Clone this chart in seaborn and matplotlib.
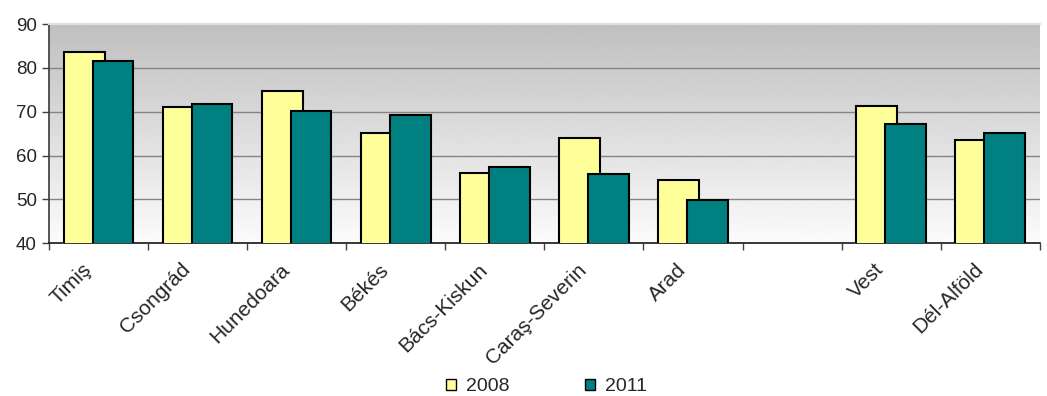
import matplotlib
matplotlib.use('Agg')
import matplotlib.pyplot as plt
import seaborn as sns
import pandas as pd
import numpy as np

sns.set_theme(style="white")
plt.rcParams['font.family'] = ['Liberation Sans', 'DejaVu Sans']

# Datos
categorias = ['Timiş', 'Csongrád', 'Hunedoara', 'Békés', 'Bács-Kiskun',
              'Caraş-Severin', 'Arad', '', 'Vest', 'Dél-Alföld']
valores_2008 = [83.7, 71.0, 74.7, 65.2, 56.1, 64.0, 54.5, np.nan, 71.4, 63.5]
valores_2011 = [81.6, 71.7, 70.1, 69.3, 57.4, 55.8, 49.9, np.nan, 67.2, 65.2]
series = ['2008', '2011']
colores = {'2008': '#FFFF99', '2011': '#008080'}

ANCHO = 0.41
DESPL = 0.145

pos = np.arange(len(categorias))
df = pd.DataFrame({'pos': pos, '2008': valores_2008, '2011': valores_2011})

fig, ax = plt.subplots(figsize=(10.47, 3.96), dpi=100)
fig.subplots_adjust(left=0.047, right=0.993, top=0.939, bottom=0.386)

# Fondo degradado gris -> blanco
grad = np.linspace(0.985, 0.75, 256)[:, None]
ax.imshow(grad, extent=[-0.5, 9.5, 40, 90], aspect='auto', cmap='gray',
          vmin=0, vmax=1, origin='lower', zorder=0)

handles = []
for i, s in enumerate(series):
    d = df.dropna(subset=[s])
    xs = d['pos'] + (-DESPL if i == 0 else DESPL)
    sns.barplot(x=xs, y=d[s], native_scale=True, width=ANCHO,
                color=colores[s], edgecolor='black', linewidth=1.5,
                errorbar=None, saturation=1, ax=ax, zorder=3 + i)
    handles.append(plt.Rectangle((0, 0), 1, 1, facecolor=colores[s],
                                 edgecolor='black', linewidth=1.0, label=s))

ax.set_xlim(-0.5, 9.5)
ax.set_ylim(40, 90)
ax.set_yticks([40, 50, 60, 70, 80, 90])
ax.set_yticklabels(['40', '50', '60', '70', '80', '90'], fontsize=13.5)
for y in [50, 60, 70, 80]:
    ax.axhline(y, color='#858585', linewidth=1.0, zorder=1)

# marcas en los límites de categoría, etiquetas algo a la izquierda del centro
ax.set_xticks(np.arange(-0.5, 10, 1))
ax.set_xticklabels([])
ax.set_xticks(pos - 0.17, minor=True)
ax.set_xticklabels(categorias, minor=True, rotation=45, ha='right', va='top',
                   rotation_mode='anchor', fontsize=15)
ax.tick_params(axis='x', which='minor', length=0, pad=12)
ax.tick_params(axis='x', which='major', length=5, width=1, color='#404040',
               direction='out', bottom=True)
ax.tick_params(axis='y', length=5, width=1, color='#404040', direction='out',
               left=True, pad=4)
ax.set_xlabel('')
ax.set_ylabel('')

ax.spines['right'].set_visible(False)
ax.spines['top'].set_color('#E0E0E0')
ax.spines['top'].set_linewidth(1.5)
ax.spines['left'].set_color('#404040')
ax.spines['bottom'].set_color('#202020')

fig.legend(handles=handles, loc='center', bbox_to_anchor=(0.522, 0.023),
           ncol=2, frameon=False, fontsize=14, handlelength=0.5,
           handleheight=0.5, handletextpad=0.5, columnspacing=3.9,
           borderpad=0)

plt.savefig('out.png', dpi=100)
plt.close()
